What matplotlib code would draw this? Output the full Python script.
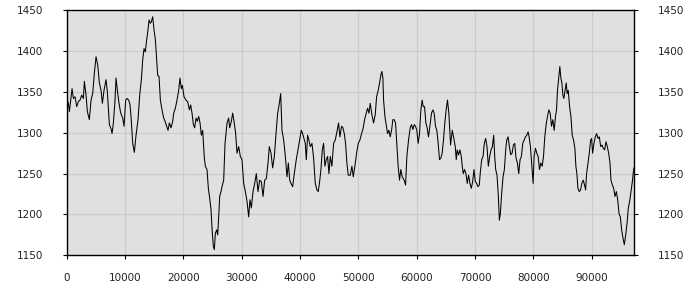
import matplotlib
matplotlib.use("Agg")
import matplotlib.pyplot as plt

# series
xs = [0, 286, 460, 690, 914, 1142, 1430, 1714, 2000, 2285, 2570, 2856, 3028, 3314, 3542,
      3885, 4171, 4456, 4742, 5028, 5314, 5600, 5885, 6114, 6400, 6742, 6971, 7142, 7314,
      7600, 7771, 8000, 8285, 8457, 8685, 8971, 9257, 9600, 9828, 10114, 10342, 10628,
      10857, 11028, 11314, 11600, 11885, 12228, 12514, 12800, 13028, 13257, 13485, 13714,
      13942, 14114, 14342, 14514, 14742, 14971, 15200, 15428, 15600, 15828, 16057, 16342,
      16628, 16857, 17142, 17371, 17600, 17885, 18171, 18342, 18628, 18914, 19200, 19428,
      19657, 19828, 20114, 20457, 20742, 21028, 21257, 21485, 21714, 21942, 22171, 22400,
      22628, 22857, 23085, 23314, 23600, 23771, 24057, 24285, 24514, 24742, 24914, 25142,
      25314, 25485, 25714, 25885, 26057, 26228, 26457, 26630, 26914, 27143, 27490, 27770,
      27940, 28230, 28457, 28686, 28970, 29200, 29486, 29770, 30057, 30343, 30630, 30914,
      31200, 31430, 31660, 31940, 32230, 32510, 32800, 33086, 33370, 33660, 33940, 34230,
      34514, 34740, 35030, 35310, 35600, 35886, 36170, 36457, 36686, 36910, 37200, 37486,
      37770, 38000, 38230, 38460, 38740, 39020, 39360, 39650, 39940, 40220, 40450, 40680,
      40900, 41080, 41300, 41530, 41760, 42050, 42330, 42620, 42900, 43130, 43360, 43590,
      43820, 44050, 44270, 44500, 44730, 44960, 45190, 45470, 45760, 46040, 46330, 46610,
      46840, 47130, 47360, 47590, 47810, 48040, 48270, 48610, 48900, 49130, 49410, 49700,
      49990, 50270, 50560, 50840, 51070, 51360, 51580, 51810, 52040, 52330, 52610, 52900,
      53130, 53410, 53640, 53870, 54040, 54210, 54330, 54560, 54780, 55010, 55240, 55470,
      55700, 55920, 56150, 56380, 56600, 56830, 57060, 57290, 57520, 57860, 58100, 58320,
      58610, 58890, 59120, 59350, 59580, 59800, 60030, 60260, 60490, 60720, 60950, 61120,
      61350, 61580, 61800, 62030, 62260, 62550, 62780, 63000, 63230, 63460, 63690, 63920,
      64150, 64370, 64600, 64830, 65060, 65290, 65520, 65817, 66100, 66330, 66620, 66790,
      66960, 67190, 67420, 67650, 67820, 67990, 68220, 68450, 68680, 68910, 69140, 69370,
      69600, 69830, 70060, 70290, 70520, 70740, 70920, 71150, 71380, 71600, 71830, 72060,
      72290, 72520, 72750, 72980, 73210, 73380, 73550, 73780, 74010, 74180, 74350, 74580,
      74810, 75040, 75270, 75440, 75670, 75900, 76130, 76360, 76590, 76820, 77040, 77270,
      77500, 77730, 77960, 78190, 78420, 78650, 78880, 79110, 79280, 79510, 79680, 79850,
      79970, 80140, 80370, 80600, 80830, 81060, 81290, 81520, 81750, 81970, 82200, 82430,
      82660, 82890, 83120, 83350, 83580, 83810, 83980, 84150, 84330, 84550, 84730, 84900,
      85070, 85240, 85410, 85640, 85810, 85990, 86220, 86450, 86670, 86900, 87130, 87300,
      87470, 87650, 87880, 88100, 88330, 88560, 88790, 88970, 89140, 89370, 89600, 89830,
      90000, 90170, 90400, 90630, 90860, 91090, 91320, 91550, 91780, 92000, 92230, 92460,
      92690, 92920, 93150, 93320, 93550, 93780, 94010, 94240, 94470, 94700, 94920, 95150,
      95380, 95610, 95840, 96070, 96290, 96520, 96750, 96980, 97150, 97270]
ys = [1342, 1336, 1326, 1340, 1354, 1342, 1344, 1332, 1338, 1340, 1346, 1342, 1363, 1346, 1326,
      1316, 1340, 1348, 1373, 1393, 1383, 1361, 1352, 1336, 1352, 1365, 1350, 1330, 1310,
      1305, 1299, 1312, 1340, 1367, 1352, 1336, 1324, 1318, 1308, 1340, 1342, 1340,
      1334, 1320, 1287, 1276, 1297, 1316, 1346, 1365, 1389, 1403, 1399, 1414,
      1426, 1438, 1434, 1436, 1442, 1426, 1414, 1389, 1370, 1369, 1340, 1328,
      1318, 1314, 1308, 1303, 1312, 1306, 1314, 1324, 1330, 1340, 1352, 1367,
      1354, 1358, 1344, 1340, 1338, 1328, 1334, 1324, 1310, 1306, 1318, 1314,
      1320, 1312, 1297, 1303, 1269, 1259, 1255, 1232, 1220, 1206, 1183, 1161,
      1157, 1177, 1181, 1175, 1197, 1222, 1228, 1234, 1242, 1287, 1312, 1318,
      1306, 1314, 1324, 1314, 1299, 1275, 1283, 1271, 1267, 1238, 1228, 1216,
      1197, 1218, 1208, 1228, 1238, 1250, 1228, 1242, 1240, 1222, 1242, 1244,
      1263, 1283, 1275, 1257, 1271, 1299, 1324, 1336, 1348, 1303, 1291, 1271,
      1246, 1263, 1242, 1238, 1234, 1250, 1267, 1279, 1291, 1303, 1299, 1293,
      1287, 1267, 1297, 1291, 1283, 1287, 1269, 1238, 1230, 1228, 1240, 1255,
      1279, 1287, 1259, 1267, 1271, 1250, 1271, 1259, 1287, 1291, 1301, 1312,
      1295, 1308, 1306, 1299, 1287, 1263, 1248, 1248, 1259, 1246, 1259, 1275,
      1287, 1291, 1299, 1306, 1316, 1324, 1330, 1324, 1336, 1322, 1312, 1322,
      1344, 1352, 1361, 1371, 1375, 1367, 1340, 1320, 1310, 1299, 1303, 1295,
      1303, 1316, 1316, 1312, 1287, 1259, 1242, 1255, 1246, 1242, 1236, 1271,
      1291, 1306, 1310, 1304, 1310, 1308, 1303, 1287, 1299, 1328, 1340, 1332,
      1332, 1312, 1306, 1295, 1308, 1324, 1328, 1324, 1308, 1303, 1287, 1267,
      1269, 1275, 1291, 1312, 1328, 1340, 1324, 1285, 1303, 1295, 1283, 1267,
      1279, 1273, 1279, 1271, 1259, 1250, 1255, 1250, 1238, 1248, 1238, 1232,
      1240, 1255, 1240, 1238, 1234, 1236, 1252, 1267, 1271, 1287, 1293, 1283,
      1259, 1271, 1279, 1283, 1297, 1271, 1255, 1248, 1222, 1193, 1201, 1226,
      1246, 1255, 1279, 1291, 1295, 1283, 1273, 1275, 1285, 1287, 1269, 1263,
      1250, 1267, 1271, 1287, 1291, 1295, 1297, 1301, 1295, 1283, 1267, 1250,
      1238, 1271, 1281, 1275, 1271, 1255, 1263, 1259, 1271, 1295, 1310, 1320,
      1328, 1324, 1308, 1316, 1303, 1320, 1328, 1352, 1365, 1381, 1367, 1361,
      1346, 1342, 1350, 1361, 1348, 1352, 1332, 1320, 1297, 1291, 1281, 1259,
      1250, 1232, 1228, 1230, 1238, 1242, 1236, 1230, 1250, 1263, 1275, 1291,
      1293, 1275, 1287, 1295, 1299, 1293, 1295, 1283, 1285, 1281, 1279, 1289,
      1283, 1275, 1263, 1242, 1236, 1232, 1222, 1228, 1218, 1201, 1197, 1181,
      1171, 1163, 1175, 1189, 1208, 1216, 1228, 1240, 1252, 1257]

x_ticks = list(range(0, 100000, 10000))
y_ticks = list(range(1150, 1451, 50))

fig = plt.figure(figsize=(7, 3), dpi=100)
ax = fig.add_axes([0.0953, 0.149, 0.8107, 0.817])
ax.set_facecolor('#e0e0e0')
ax.plot(xs, ys, color='black', linewidth=0.75)

ax.set_xlim(0, 97300)
ax.set_ylim(1150, 1450)
ax.set_xticks(x_ticks)
ax.set_yticks(y_ticks)
ax.grid(True, color='#cccccc', linewidth=0.9)
ax.set_axisbelow(True)

for s in ax.spines.values():
    s.set_color('black')
    s.set_linewidth(1)

ax.tick_params(axis='y', which='both', left=True, right=True,
               labelleft=True, labelright=True, direction='out',
               length=3, pad=14, labelsize=7.5, colors='black', labelcolor='#222222')
ax.tick_params(axis='x', direction='out', length=3, pad=10,
               labelsize=7.5, colors='black', labelcolor='#222222')

fig.savefig('out.png', dpi=100)
